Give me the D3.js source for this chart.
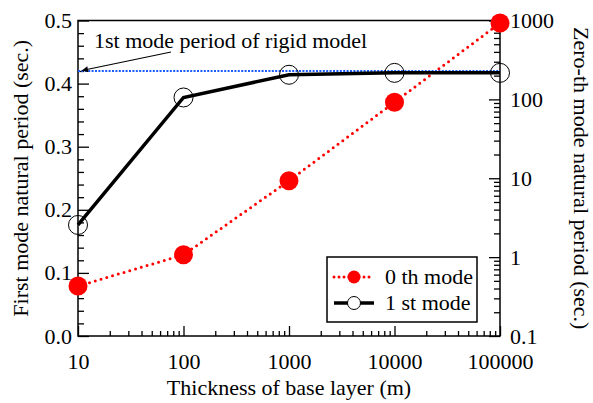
<!DOCTYPE html>
<html>
<head>
<meta charset="utf-8">
<script src="https://cdn.jsdelivr.net/npm/d3@7"></script>
<style>
  body { margin: 0; background: #fff; }
  svg text { font-family: "Liberation Serif", "Times New Roman", serif; fill: #000; }
</style>
</head>
<body>
<svg id="chart" width="593" height="403"></svg>
<script>
// Thickness of base layer (m)
const thickness = [10, 100, 1000, 10000, 100000];
// Zero-th mode natural period (sec.), right log axis
const mode0 = [0.43, 1.07, 9.3, 92, 930];
// First mode natural period (sec.), left linear axis
const mode1 = [0.176, 0.378, 0.414, 0.417, 0.417];
// Rigid model first mode period (sec.)
const rigidPeriod = 0.42;

const xTicks = [10, 100, 1000, 10000, 100000];
const yLeftTicks = [0.0, 0.1, 0.2, 0.3, 0.4, 0.5];
const yRightTicks = [0.1, 1, 10, 100, 1000];

const svg = d3.select("#chart");
const m = { left: 78, right: 500, top: 20.5, bottom: 336 };
const fs = 22;

const x = d3.scaleLog().domain([10, 100000]).range([m.left, m.right]);
const yL = d3.scaleLinear().domain([0, 0.5]).range([m.bottom, m.top]);
const yR = d3.scaleLog().domain([0.1, 1000]).range([m.bottom, m.top]);

// minor tick values
const xMinor = [];
for (let d = 10; d < 100000; d *= 10) for (let k = 2; k <= 9; k++) xMinor.push(d * k);
const rMinor = [];
for (let d = 0.1; d < 1000; d *= 10) for (let k = 2; k <= 9; k++) rMinor.push(+(d * k).toPrecision(3));
const lMinor = d3.range(0, 0.501, 0.02).filter(v => Math.abs(v * 10 - Math.round(v * 10)) > 1e-6);

// Frame
svg.append("rect").attr("x", m.left).attr("y", m.top)
  .attr("width", m.right - m.left).attr("height", m.bottom - m.top)
  .attr("fill", "none").attr("stroke", "#000").attr("stroke-width", 1.5);

// Bottom axis (ticks point inward)
const gx = svg.append("g").attr("transform", `translate(0,${m.bottom})`);
gx.call(d3.axisBottom(x).tickValues(xTicks).tickSize(-10).tickPadding(22).tickFormat(d3.format("d")));
gx.append("g").call(d3.axisBottom(x).tickValues(xMinor).tickSize(-5).tickFormat(""));
// Left axis
const gl = svg.append("g").attr("transform", `translate(${m.left},0)`);
gl.call(d3.axisLeft(yL).tickValues(yLeftTicks).tickSize(-11).tickPadding(6).tickFormat(d3.format(".1f")));
gl.append("g").call(d3.axisLeft(yL).tickValues(lMinor).tickSize(-6).tickFormat(""));
// Right axis
const gr = svg.append("g").attr("transform", `translate(${m.right},0)`);
gr.call(d3.axisRight(yR).tickValues(yRightTicks).tickSize(-11).tickPadding(10).tickFormat(d => d3.format("~g")(d)));
gr.append("g").call(d3.axisRight(yR).tickValues(rMinor).tickSize(-6).tickFormat(""));

svg.selectAll(".domain").remove();
svg.selectAll(".tick line").attr("stroke", "#000").attr("stroke-width", 1.3);
svg.selectAll(".tick text").attr("font-size", fs).attr("font-family", "Liberation Serif").attr("fill", "#000");
gx.selectAll(".tick text").attr("dy", "0.5em");

// Rigid model reference line
svg.append("line")
  .attr("x1", m.left).attr("x2", m.right)
  .attr("y1", yL(rigidPeriod)).attr("y2", yL(rigidPeriod))
  .attr("stroke", "#1a5cff").attr("stroke-width", 2)
  .attr("stroke-dasharray", "2,1.4");

// Annotation
svg.append("defs").append("marker")
  .attr("id", "arrow").attr("viewBox", "0 0 10 10")
  .attr("refX", 10).attr("refY", 5).attr("markerWidth", 9).attr("markerHeight", 6)
  .attr("markerUnits", "userSpaceOnUse").attr("orient", "auto")
  .append("path").attr("d", "M0,0L10,5L0,10z").attr("fill", "#000");
svg.append("line")
  .attr("x1", 171).attr("y1", 52)
  .attr("x2", m.left + 4).attr("y2", yL(rigidPeriod) - 0.5)
  .attr("stroke", "#000").attr("stroke-width", 1.2)
  .attr("marker-end", "url(#arrow)");
svg.append("text").attr("x", 94).attr("y", 48).attr("font-size", fs)
  .text("1st mode period of rigid model");

// 0th mode series
const line0 = d3.line().x((d, i) => x(thickness[i])).y(d => yR(d));
svg.append("path").datum(mode0).attr("d", line0)
  .attr("fill", "none").attr("stroke", "#ff0000").attr("stroke-width", 3)
  .attr("stroke-linecap", "round").attr("stroke-dasharray", "0,6");
svg.selectAll(".p0").data(mode0).join("circle")
  .attr("cx", (d, i) => x(thickness[i])).attr("cy", d => yR(d))
  .attr("r", 9.5).attr("fill", "#ff0000");

// 1st mode series
const line1 = d3.line().x((d, i) => x(thickness[i])).y(d => yL(d));
svg.append("path").datum(mode1).attr("d", line1)
  .attr("fill", "none").attr("stroke", "#000").attr("stroke-width", 3.5);
svg.selectAll(".p1").data(mode1).join("circle")
  .attr("cx", (d, i) => x(thickness[i])).attr("cy", d => yL(d))
  .attr("r", 9.5).attr("fill", "none").attr("stroke", "#000").attr("stroke-width", 1);

// Legend
const lg = svg.append("g");
lg.append("rect").attr("x", 327).attr("y", 257).attr("width", 150).attr("height", 65)
  .attr("fill", "#fff").attr("stroke", "#000").attr("stroke-width", 1.5);
lg.append("line").attr("x1", 334).attr("x2", 374).attr("y1", 277).attr("y2", 277)
  .attr("stroke", "#ff0000").attr("stroke-width", 3).attr("stroke-linecap", "round")
  .attr("stroke-dasharray", "0,5");
lg.append("circle").attr("cx", 354).attr("cy", 277).attr("r", 6.5).attr("fill", "#ff0000");
lg.append("text").attr("x", 385).attr("y", 284).attr("font-size", fs).text("0 th mode");
lg.append("line").attr("x1", 334).attr("x2", 374).attr("y1", 303).attr("y2", 303)
  .attr("stroke", "#000").attr("stroke-width", 3.5);
lg.append("circle").attr("cx", 354).attr("cy", 303).attr("r", 6.5)
  .attr("fill", "#fff").attr("stroke", "#000").attr("stroke-width", 1);
lg.append("text").attr("x", 385).attr("y", 310).attr("font-size", fs).text("1 st mode");

// Axis titles
svg.append("text").attr("font-size", fs).attr("text-anchor", "middle")
  .attr("transform", `translate(${(m.left + m.right) / 2},395)`)
  .text("Thickness of base layer (m)");
svg.append("text").attr("font-size", fs).attr("text-anchor", "middle")
  .attr("transform", `translate(28,${(m.top + m.bottom) / 2}) rotate(-90)`)
  .text("First mode natural period (sec.)");
svg.append("text").attr("font-size", fs).attr("text-anchor", "middle")
  .attr("transform", `translate(574,${(m.top + m.bottom) / 2}) rotate(90)`)
  .text("Zero-th mode natural period (sec.)");
</script>
</body>
</html>
